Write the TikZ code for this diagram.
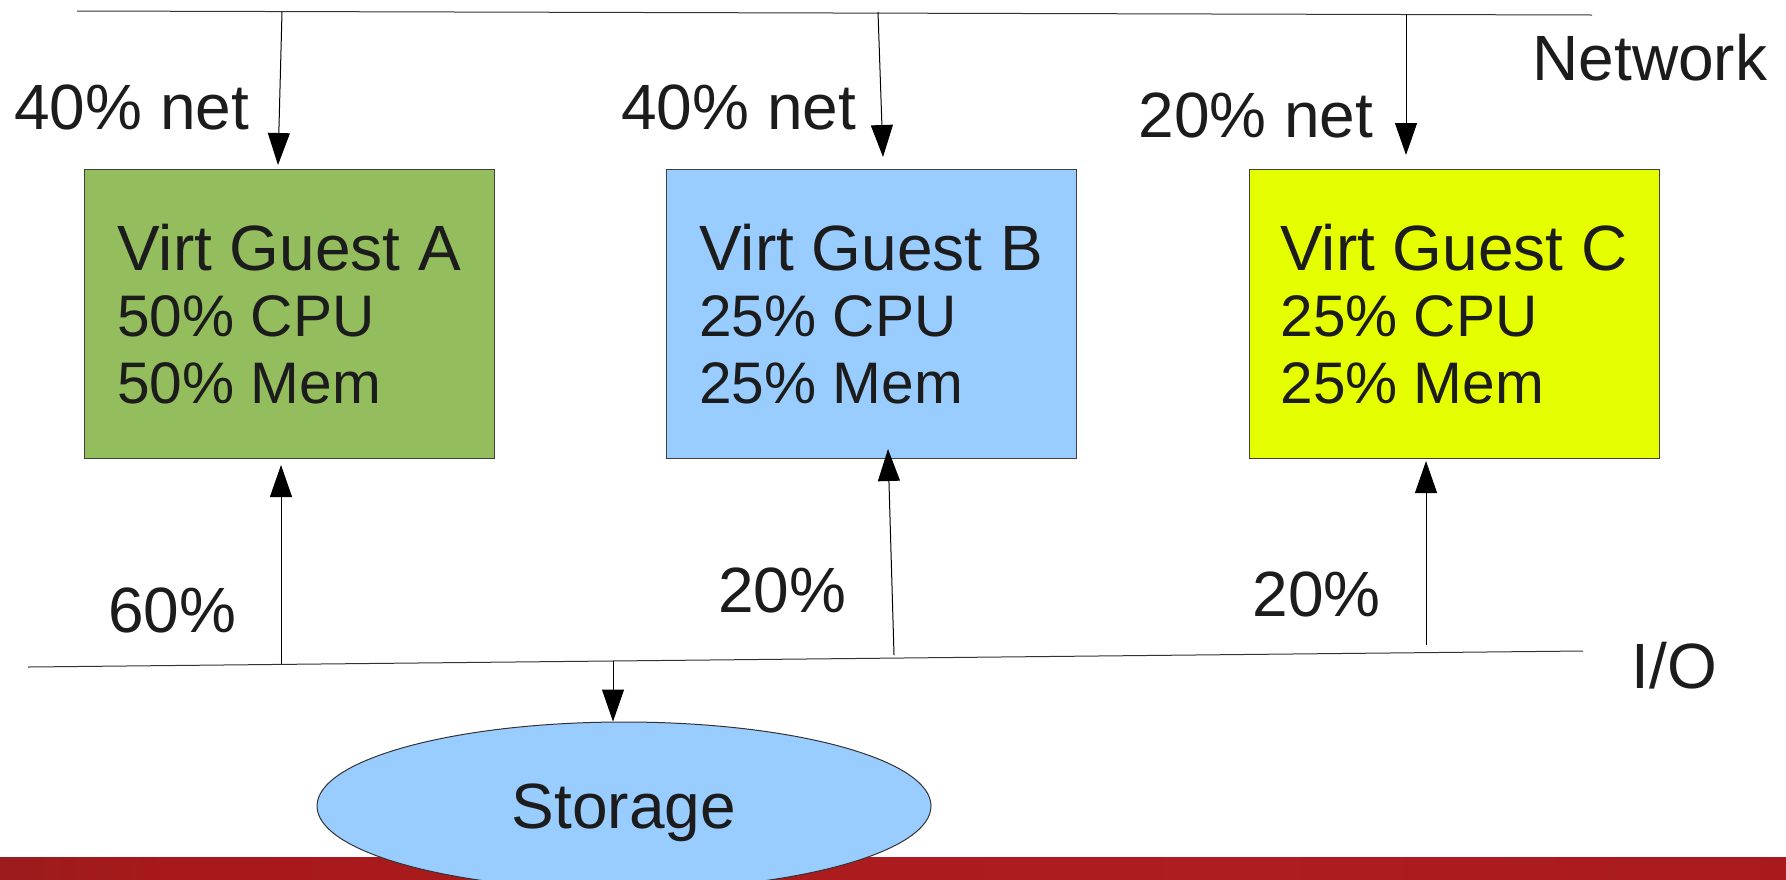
\documentclass[tikz,border=0pt]{standalone}
\usepackage{fontspec}
\setmainfont{Liberation Sans}
\usetikzlibrary{arrows.meta,shapes.geometric}
\definecolor{ink}{HTML}{1C1C1C}
\definecolor{guestA}{HTML}{94BD5E}
\definecolor{guestB}{HTML}{99CCFF}
\definecolor{guestC}{HTML}{E6FF00}
\definecolor{redA}{HTML}{A8191B}
\definecolor{redB}{HTML}{8C1E1E}
\definecolor{redC}{HTML}{AE1D20}
\definecolor{redD}{HTML}{A01618}
\pgfdeclarehorizontalshading{redbar}{100bp}{color(0bp)=(redA); color(12bp)=(redC); color(19bp)=(redB); color(30bp)=(redA); color(60bp)=(redC); color(100bp)=(redD)}
\newcommand{\smallline}[1]{\hbox{\fontsize{29.3}{33.3}\selectfont #1}}
\begin{document}
\begin{tikzpicture}[x=0.5pt,y=-0.5pt,
  txt/.style={font=\fontsize{32}{33.3}\selectfont, text=ink, inner sep=0pt, anchor=base west},
  guest/.style={draw=black!75, line width=0.5pt, anchor=north west, minimum width=205pt, minimum height=144.5pt, inner sep=0pt},
  busline/.style={draw=black!80, line width=0.5pt},
  flow/.style={draw=black, line width=0.5pt, -{Triangle[length=16pt,width=11pt]}}]
\useasboundingbox (0,0) rectangle (1786,879);
% red bar
\shade[shading=redbar] (0,857) rectangle (1786,879);
% boxes
\node[guest, fill=guestA] (A) at (84,169) {};
\node[guest, fill=guestB] (B) at (666,169) {};
\node[guest, fill=guestC] (C) at (1249,169) {};
\node[txt] (At) at (117,270) {\vtop{\hbox{Virt Guest A}\smallline{50\% CPU}\smallline{50\% Mem}}};
\node[txt] (Bt) at (699,270) {\vtop{\hbox{Virt Guest B}\smallline{25\% CPU}\smallline{25\% Mem}}};
\node[txt] (Ct) at (1280,270) {\vtop{\hbox{Virt Guest C}\smallline{25\% CPU}\smallline{25\% Mem}}};
% storage
\node[draw=black!80, line width=0.5pt, fill=guestB, ellipse, minimum width=307pt, minimum height=84pt, inner sep=0pt] (S) at (624,806) {};
\node[txt, anchor=base] (St) at (624,828) {Storage};
% network line
\coordinate (n0) at (77,11);
\coordinate (n1) at (1592,15);
\draw[busline] (n0) -- (n1);
\coordinate (nA) at (282,12);
\coordinate (nB) at (878,12);
\coordinate (nC) at (1406,14);
\coordinate (tA) at (278,165);
\coordinate (tB) at (883,157);
\coordinate (tC) at (1406,155);
\draw[flow] (nA) -- (tA);
\draw[flow] (nB) -- (tB);
\draw[flow] (nC) -- (tC);
% io line
\coordinate (i0) at (28,667);
\coordinate (i1) at (1583,651);
\draw[busline] (i0) -- (i1);
\coordinate (iA) at (281,664);
\coordinate (iB) at (894,655);
\coordinate (iC) at (1426,645);
\coordinate (iS) at (613,661);
\coordinate (bA) at (281,465);
\coordinate (bB) at (888,449);
\coordinate (bC) at (1426,461);
\draw[flow] (iA) -- (bA);
\draw[flow] (iB) -- (bB);
\draw[flow] (iC) -- (bC);
\draw[flow] (iS) -- (iS |- S.north);
% labels
\node[txt] (l1) at (14,129) {40\% net};
\node[txt] (l2) at (621,129) {40\% net};
\node[txt] (l3) at (1138,137) {20\% net};
\node[txt] (net) at (1532,80) {Network};
\node[txt] (p1) at (108,632) {60\%};
\node[txt] (p2) at (718,612) {20\%};
\node[txt] (p3) at (1252,616) {20\%};
\node[txt] (io) at (1631,688) {I/O};
\end{tikzpicture}
\end{document}
